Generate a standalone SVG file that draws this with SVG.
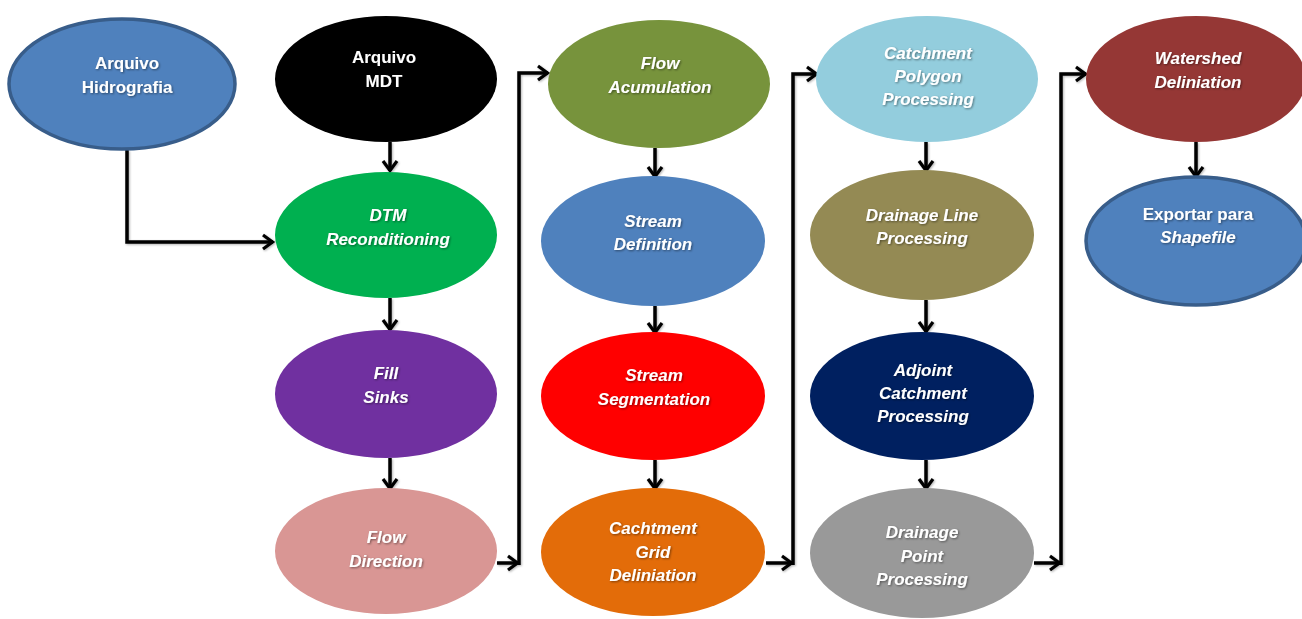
<svg xmlns="http://www.w3.org/2000/svg" width="1302" height="619" viewBox="0 0 1302 619">
<defs>
<style>
.t{font-family:"Liberation Sans",Arial,sans-serif;font-size:17px;font-weight:bold;fill:#fff;text-anchor:middle;filter:url(#ts)}
.i{font-style:italic}
.c{fill:none;stroke:#000;stroke-width:3.5;stroke-linejoin:miter}
.bd{stroke:#385d8a;stroke-width:3.5}
</style>
<filter id="ts" x="-10%" y="-30%" width="130%" height="160%">
<feDropShadow dx="1" dy="1" stdDeviation="0.8" flood-color="#000" flood-opacity="0.45"/>
</filter>
<filter id="ls" x="-20%" y="-20%" width="140%" height="140%">
<feDropShadow dx="1" dy="1" stdDeviation="1" flood-color="#000" flood-opacity="0.3"/>
</filter>
<marker id="ah" viewBox="0 0 16 18" refX="13" refY="9" markerWidth="16" markerHeight="18" markerUnits="userSpaceOnUse" orient="auto">
<path d="M3,2 L12.5,9 L3,16" fill="none" stroke="#000" stroke-width="3.2"/>
</marker>
</defs>
<rect width="1302" height="619" fill="#fff"/>

<g id="connectors" filter="url(#ls)">
<path class="c" d="M127,150 V242 H273" marker-end="url(#ah)"/>
<path class="c" d="M390,142 V171" marker-end="url(#ah)"/>
<path class="c" d="M390,298 V330" marker-end="url(#ah)"/>
<path class="c" d="M390,458 V489" marker-end="url(#ah)"/>
<path class="c" d="M497,563 H518" marker-end="url(#ah)"/>
<path class="c" d="M519,565 V73 H548" marker-end="url(#ah)"/>
<path class="c" d="M655,148 V177" marker-end="url(#ah)"/>
<path class="c" d="M655,306 V333" marker-end="url(#ah)"/>
<path class="c" d="M655,460 V489" marker-end="url(#ah)"/>
<path class="c" d="M766,563 H792" marker-end="url(#ah)"/>
<path class="c" d="M793,565 V74 H817" marker-end="url(#ah)"/>
<path class="c" d="M926,142 V171" marker-end="url(#ah)"/>
<path class="c" d="M926,300 V332" marker-end="url(#ah)"/>
<path class="c" d="M926,460 V489" marker-end="url(#ah)"/>
<path class="c" d="M1034,563 H1060" marker-end="url(#ah)"/>
<path class="c" d="M1061,565 V74 H1086" marker-end="url(#ah)"/>
<path class="c" d="M1196,142 V177" marker-end="url(#ah)"/>
</g>

<g id="n-hidrografia">
<ellipse cx="122" cy="84" rx="113" ry="65" fill="#4f81bd" class="bd"/>
<text class="t" x="127" y="69">Arquivo</text>
<text class="t" x="127" y="93">Hidrografia</text>
</g>
<g id="n-mdt">
<ellipse cx="386" cy="79" rx="111" ry="63" fill="#000"/>
<text class="t" x="384" y="63">Arquivo</text>
<text class="t" x="384" y="87">MDT</text>
</g>
<g id="n-dtm">
<ellipse cx="386" cy="235" rx="111" ry="63" fill="#00b050"/>
<text class="t i" x="388" y="221">DTM</text>
<text class="t i" x="388" y="245">Reconditioning</text>
</g>
<g id="n-fill">
<ellipse cx="386" cy="394" rx="111" ry="64" fill="#7030a0"/>
<text class="t i" x="386" y="379">Fill</text>
<text class="t i" x="386" y="403">Sinks</text>
</g>
<g id="n-flowdir">
<ellipse cx="386" cy="551" rx="111" ry="63" fill="#d99694"/>
<text class="t i" x="386" y="543">Flow</text>
<text class="t i" x="386" y="567">Direction</text>
</g>

<g id="n-flowacc">
<ellipse cx="659" cy="84" rx="111" ry="64" fill="#77933c"/>
<text class="t i" x="660" y="69">Flow</text>
<text class="t i" x="660" y="93">Acumulation</text>
</g>
<g id="n-streamdef">
<ellipse cx="653" cy="241" rx="112" ry="65" fill="#4f81bd"/>
<text class="t i" x="653" y="227">Stream</text>
<text class="t i" x="653" y="250">Definition</text>
</g>
<g id="n-streamseg">
<ellipse cx="653" cy="396" rx="112" ry="64" fill="#ff0000"/>
<text class="t i" x="654" y="381">Stream</text>
<text class="t i" x="654" y="405">Segmentation</text>
</g>
<g id="n-cgrid">
<ellipse cx="653" cy="552" rx="112" ry="64" fill="#e36c09"/>
<text class="t i" x="653" y="534">Cachtment</text>
<text class="t i" x="653" y="558">Grid</text>
<text class="t i" x="653" y="581">Deliniation</text>
</g>

<g id="n-cpoly">
<ellipse cx="927" cy="79" rx="111" ry="63" fill="#93cddd"/>
<text class="t i" x="928" y="59">Catchment</text>
<text class="t i" x="928" y="82">Polygon</text>
<text class="t i" x="928" y="105">Processing</text>
</g>
<g id="n-dline">
<ellipse cx="922" cy="235" rx="112" ry="65" fill="#948a54"/>
<text class="t i" x="922" y="221">Drainage Line</text>
<text class="t i" x="922" y="244">Processing</text>
</g>
<g id="n-adjoint">
<ellipse cx="922" cy="396" rx="112" ry="64" fill="#002060"/>
<text class="t i" x="923" y="376">Adjoint</text>
<text class="t i" x="923" y="399">Catchment</text>
<text class="t i" x="923" y="422">Processing</text>
</g>
<g id="n-dpoint">
<ellipse cx="922" cy="553" rx="112" ry="65" fill="#999999"/>
<text class="t i" x="922" y="538">Drainage</text>
<text class="t i" x="922" y="562">Point</text>
<text class="t i" x="922" y="585">Processing</text>
</g>

<g id="n-watershed">
<ellipse cx="1196" cy="79" rx="110" ry="63" fill="#953735"/>
<text class="t i" x="1198" y="64">Watershed</text>
<text class="t i" x="1198" y="88">Deliniation</text>
</g>
<g id="n-export">
<ellipse cx="1196" cy="241" rx="110" ry="64" fill="#4f81bd" class="bd"/>
<text class="t" x="1198" y="220">Exportar para</text>
<text class="t i" x="1198" y="243">Shapefile</text>
</g>
</svg>
